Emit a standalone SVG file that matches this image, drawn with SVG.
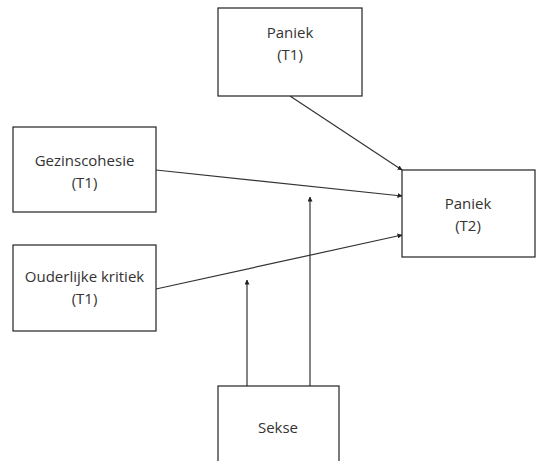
<svg xmlns="http://www.w3.org/2000/svg" width="537" height="461" viewBox="0 0 537 461">
<style>
.box{fill:#fff;stroke:#222;stroke-width:1.2}
.lbl{font-family:"Open Sans","Liberation Sans",sans-serif;font-size:15px;fill:#333;text-anchor:middle}
.edge{stroke:#333;stroke-width:1.2;fill:none;marker-end:url(#ah)}
</style>
<defs>
<marker id="ah" viewBox="0 0 10 10" refX="9" refY="5" markerWidth="5" markerHeight="5" orient="auto" markerUnits="userSpaceOnUse">
<path d="M0,0 L10,5 L0,10 z" fill="#222"/>
</marker>
</defs>
<rect width="537" height="461" fill="#fff"/>
<g id="connectors">
<line class="edge" x1="290" y1="96" x2="402" y2="170"/>
<line class="edge" x1="156" y1="170" x2="402" y2="196"/>
<line class="edge" x1="156" y1="289" x2="402" y2="235"/>
<line class="edge" x1="247" y1="386" x2="247" y2="280"/>
<line class="edge" x1="310" y1="386" x2="310" y2="197"/>
</g>
<g id="paniek-t1">
<rect class="box" x="218" y="8" width="144" height="88"/>
<text class="lbl" x="290" y="38">Paniek</text>
<text class="lbl" x="290" y="60">(T1)</text>
</g>
<g id="gezinscohesie">
<rect class="box" x="13" y="127" width="143" height="85"/>
<text class="lbl" x="84.5" y="166">Gezinscohesie</text>
<text class="lbl" x="84.5" y="188">(T1)</text>
</g>
<g id="ouderlijke-kritiek">
<rect class="box" x="13" y="245" width="143" height="86"/>
<text class="lbl" x="84.5" y="282">Ouderlijke kritiek</text>
<text class="lbl" x="84.5" y="304">(T1)</text>
</g>
<g id="paniek-t2">
<rect class="box" x="402" y="170" width="133" height="87"/>
<text class="lbl" x="468" y="209">Paniek</text>
<text class="lbl" x="468" y="231">(T2)</text>
</g>
<g id="sekse">
<rect class="box" x="218" y="386" width="121" height="90"/>
<text class="lbl" x="278" y="433">Sekse</text>
</g>
</svg>
